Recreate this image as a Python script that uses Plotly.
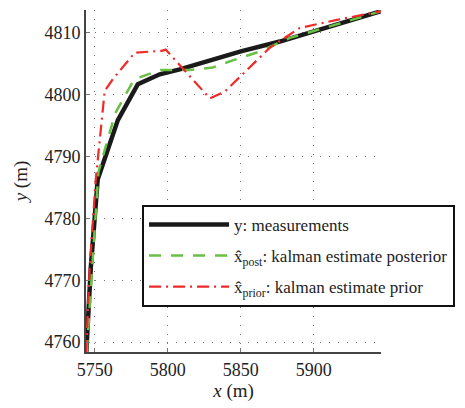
import plotly.graph_objects as go

# measurements
meas_x = [5744.2, 5747.3, 5752.0, 5765.8, 5779.5, 5794.5, 5808.2, 5824.0, 5850.0, 5876.7, 5900.0, 5946.0]
meas_y = [4758.4, 4772.1, 4786.3, 4795.9, 4801.7, 4803.3, 4804.1, 4805.2, 4807.0, 4808.6, 4810.3, 4813.5]
# posterior estimate
post_x = [5744.5, 5748.0, 5752.5, 5764.0, 5777.0, 5795.0, 5815.0, 5830.8, 5842.5, 5863.0, 5883.6, 5900.0, 5946.0]
post_y = [4758.4, 4772.0, 4787.5, 4797.0, 4802.5, 4804.0, 4804.0, 4804.4, 4805.4, 4807.0, 4809.2, 4810.3, 4813.5]
# prior estimate
prior_x = [5744.0, 5746.6, 5750.7, 5756.8, 5762.3, 5777.4, 5795.9, 5798.6, 5828.8, 5839.0, 5869.9, 5890.4, 5915.8, 5946.0]
prior_y = [4758.4, 4772.4, 4786.3, 4800.6, 4802.5, 4806.8, 4807.1, 4807.3, 4799.4, 4800.5, 4807.6, 4810.8, 4812.1, 4813.5]

x_ticks = [5750, 5800, 5850, 5900]
y_ticks = [4760, 4770, 4780, 4790, 4800, 4810]

FONT = "Liberation Serif"

fig = go.Figure()
fig.add_trace(go.Scatter(x=meas_x, y=meas_y, mode="lines", name="y: measurements",
                         legendgroup="a",
                         line=dict(color="#1a1a1a", width=4.5)))
fig.add_trace(go.Scatter(x=post_x, y=post_y, mode="lines",
                         name="x\u0302<sub>post</sub>: kalman estimate posterior",
                         legendgroup="b",
                         line=dict(color="#6abf45", width=2.5, dash="12px,10px")))
fig.add_trace(go.Scatter(x=prior_x, y=prior_y, mode="lines",
                         name="x\u0302<sub>prior</sub>: kalman estimate prior",
                         legendgroup="c",
                         line=dict(color="#ee2a2a", width=2.2, dash="12px,5px,2px,5px")))

grid = dict(showgrid=True, gridcolor="#777777", gridwidth=1, griddash="1px,8px",
            showline=True, linecolor="#444444", linewidth=2, zeroline=False,
            ticks="inside", ticklen=4, tickcolor="#777777",
            tickfont=dict(family=FONT, size=18, color="#222222"))

fig.update_xaxes(range=[5744, 5946], tickvals=x_ticks,
                 title=dict(text="<i>x</i> (m)", font=dict(family=FONT, size=19, color="#222222"), standoff=5),
                 **grid)
fig.update_yaxes(range=[4758.4, 4813.7], tickvals=y_ticks,
                 title=dict(text="<i>y</i> (m)", font=dict(family=FONT, size=19, color="#222222"), standoff=12),
                 **grid)

fig.update_layout(
    width=465, height=408,
    margin=dict(l=86, r=84, t=10, b=50),
    plot_bgcolor="white", paper_bgcolor="white",
    font=dict(family=FONT, color="#222222"),
    legend=dict(x=0.19, y=0.43, xanchor="left", yanchor="top",
                bgcolor="white", bordercolor="#111111", borderwidth=2,
                font=dict(family=FONT, size=17, color="#222222"),
                itemwidth=80, tracegroupgap=6),
)

fig.write_html("out.html")
